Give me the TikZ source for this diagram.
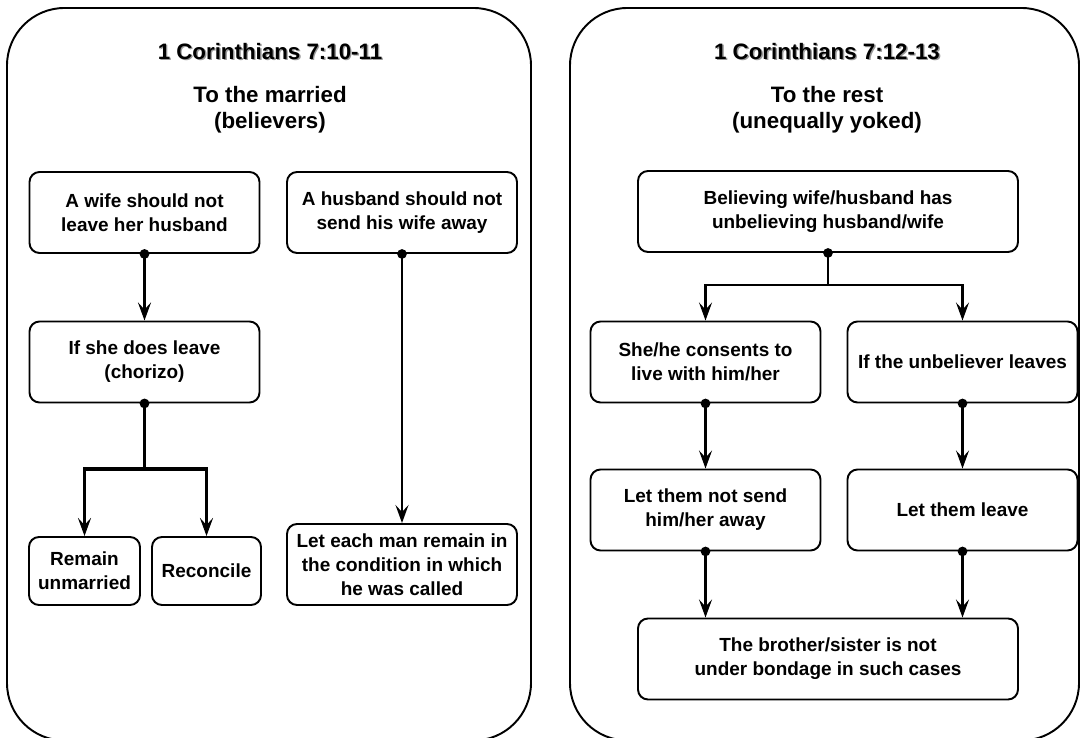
\documentclass[tikz,border=0pt]{standalone}
\usepackage{fontspec}
\setmainfont{Liberation Sans}
\usetikzlibrary{arrows.meta}
\newcommand\shadowed[1]{\leavevmode\rlap{\raisebox{-0.8pt}{\hspace{0.8pt}\textcolor{black!40}{#1}}}#1}

\begin{document}
\begin{tikzpicture}[
	panel/.style={draw=black, line width=1.1pt, rounded corners=1.15cm},
	box/.style={draw=black, line width=1.1pt, rounded corners=0.2cm, align=center,
		inner sep=2pt, font=\fontsize{10.8}{13.7}\selectfont\bfseries},
	wide/.style={box, minimum width=4.6cm, minimum height=1.62cm},
	broad/.style={box, minimum width=7.6cm, minimum height=1.62cm},
	small/.style={box, minimum height=1.36cm},
	heading/.style={align=center, font=\fontsize{12.7}{14.6}\selectfont\bfseries},
	dotline/.style={line width=1.3pt, {Circle[length=0.19cm]}-, shorten <=-0.095cm},
	arrowline/.style={line width=1.3pt, -{Stealth[length=0.36cm, width=0.26cm, inset=0.14cm]}},
	link/.style={line width=1.3pt, shorten <=-0.095cm,
		{Circle[length=0.19cm]}-{Stealth[length=0.36cm, width=0.26cm, inset=0.14cm]}},
	heavy/.style={line width=2pt}
	]
	\useasboundingbox (0,0) rectangle (21.62,14.76);
	\draw[panel] (0.14,-0.05) rectangle (10.62,14.6);
	\draw[panel] (11.4,-0.05) rectangle (21.58,14.6);

	\node[heading] (lefttitle) at (5.4,13.72) {\shadowed{1 Corinthians 7:10-11}};
	\node[heading] (leftsub) at (5.4,12.57) {To the married\\(believers)};
	\node[wide] (wife) at (2.89,10.51) {A wife should not\\leave her husband};
	\node[wide] (husband) at (8.04,10.51) {A husband should not\\send his wife away};
	\node[wide] (leave) at (2.89,7.52) {If she does leave\\(chorizo)};
	\node[small, minimum width=2.22cm] (unmarried) at (1.69,3.34) {Remain\\unmarried};
	\node[small, minimum width=2.18cm] (reconcile) at (4.13,3.34) {Reconcile};
	\node[wide] (remain) at (8.04,3.47) {Let each man remain in\\the condition in which\\he was called};

	\node[heading] (righttitle) at (16.54,13.72) {\shadowed{1 Corinthians 7:12-13}};
	\node[heading] (rightsub) at (16.54,12.57) {To the rest\\(unequally yoked)};
	\node[broad] (believing) at (16.56,10.53) {Believing wife/husband has\\unbelieving husband/wife};
	\node[wide] (consents) at (14.11,7.52) {She/he consents to\\live with him/her};
	\node[wide] (unbeliever) at (19.25,7.52) {If the unbeliever leaves};
	\node[wide] (notsend) at (14.11,4.56) {Let them not send\\him/her away};
	\node[wide] (letleave) at (19.25,4.56) {Let them leave};
	\node[broad] (bondage) at (16.56,1.58) {The brother/sister is not\\under bondage in such cases};

	\coordinate (leavesplit) at (2.89,5.38);
	\coordinate (believingsplit) at (16.56,9.06);

	\draw[link, heavy] (wife.south) -- (leave.north);
	\draw[dotline, heavy] (leave.south) -- (leavesplit);
	\draw[arrowline, heavy] (leavesplit) -| (unmarried.north);
	\draw[arrowline, heavy] (leavesplit) -| (reconcile.north);
	\draw[link] (husband.south) -- (remain.north);

	\draw[dotline] (believing.south) -- (believingsplit);
	\draw[arrowline] (believingsplit) -| (consents.north);
	\draw[arrowline] (believingsplit) -| (unbeliever.north);
	\draw[link] (consents.south) -- (notsend.north);
	\draw[link] (unbeliever.south) -- (letleave.north);
	\draw[link] (notsend.south) -- (notsend.south |- bondage.north);
	\draw[link] (letleave.south) -- (letleave.south |- bondage.north);
\end{tikzpicture}
\end{document}
